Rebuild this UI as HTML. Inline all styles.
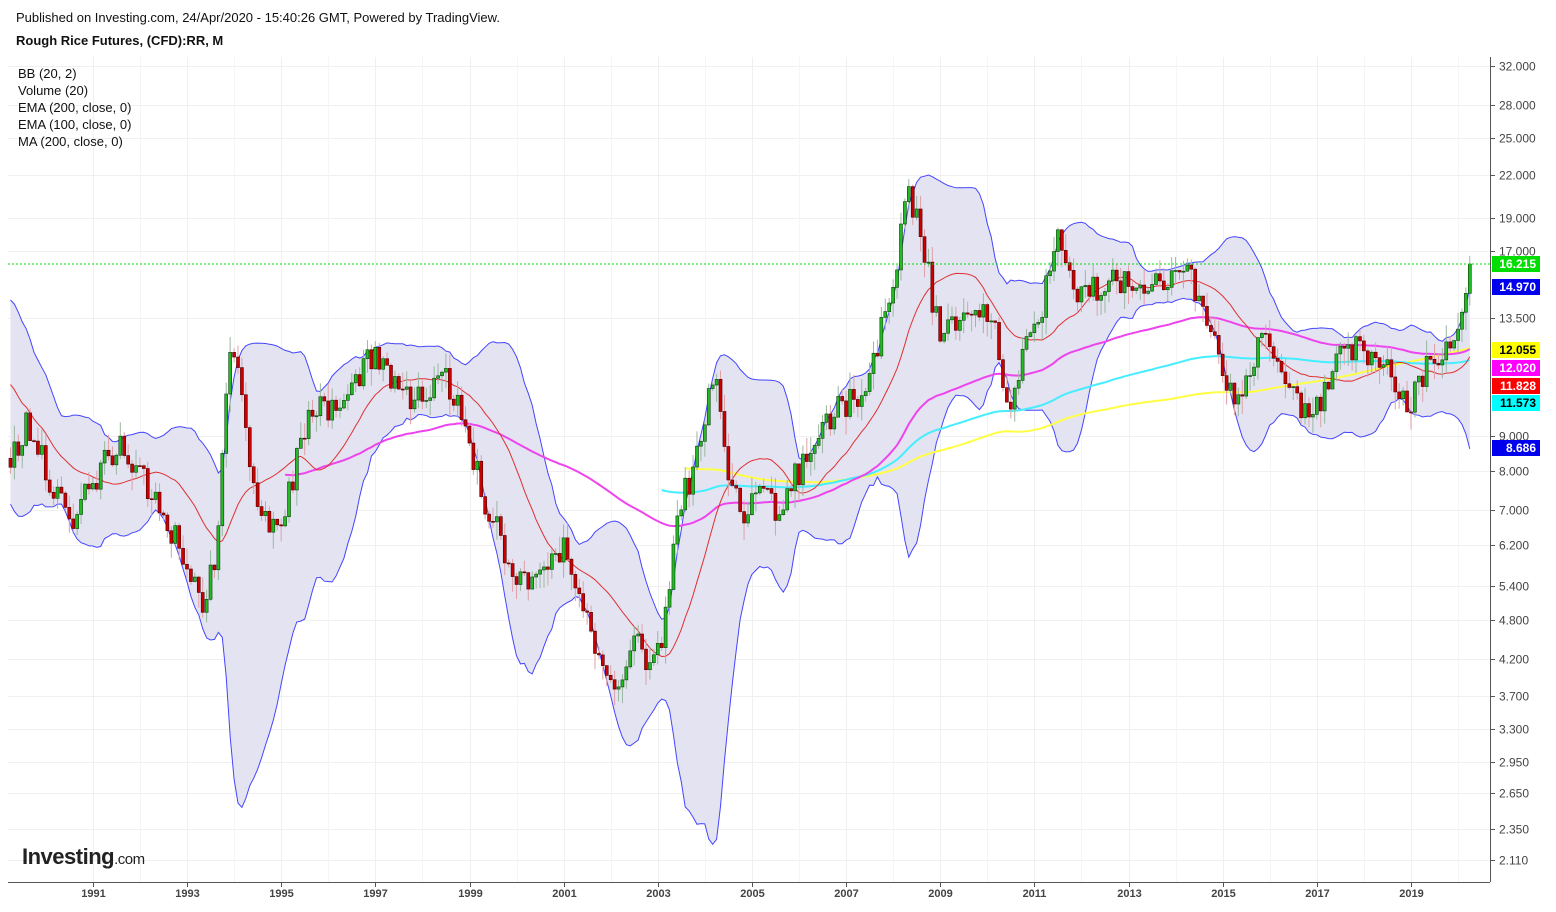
<!DOCTYPE html>
<html><head><meta charset="utf-8"><style>
body{margin:0;background:#fff;width:1556px;height:907px;overflow:hidden;font-family:"Liberation Sans",Arial,sans-serif}
</style></head><body>
<svg id="s" width="1556" height="907" xmlns="http://www.w3.org/2000/svg" font-family="Liberation Sans, Arial, sans-serif">
<rect width="1556" height="907" fill="#fff"/>
<g id="grid"></g>
<g id="band"></g>
<g id="lines"></g>
<g id="candles"></g>
<line x1="8" y1="264" x2="1490" y2="264" stroke="#00dd00" stroke-dasharray="2,2" stroke-width="1"/>
<line x1="1490.5" y1="57" x2="1490.5" y2="882" stroke="#555" />
<line x1="8" y1="882.5" x2="1490" y2="882.5" stroke="#555" />
<g id="axis" font-size="12" fill="#444"></g>
<text x="16" y="22" font-size="13" fill="#111">Published on Investing.com, 24/Apr/2020 - 15:40:26 GMT, Powered by TradingView.</text>
<text x="16" y="45" font-size="13" font-weight="bold" fill="#111">Rough Rice Futures, (CFD):RR, M</text>
<g font-size="13" fill="#111">
<text x="18" y="78">BB (20, 2)</text>
<text x="18" y="95">Volume (20)</text>
<text x="18" y="112">EMA (200, close, 0)</text>
<text x="18" y="129">EMA (100, close, 0)</text>
<text x="18" y="146">MA (200, close, 0)</text>
</g>
<text x="22" y="864" font-size="22" font-weight="bold" fill="#222" letter-spacing="-0.5">Investing<tspan font-size="15" font-weight="normal">.com</tspan></text>
<g id="tags" font-size="12" font-weight="bold"></g>
</svg>
<script>
var NS="http://www.w3.org/2000/svg";
function el(p,t,a,txt){var e=document.createElementNS(NS,t);for(var k in a)e.setAttribute(k,a[k]);if(txt!=null)e.textContent=txt;document.getElementById(p).appendChild(e);return e;}
function Y(p){return 66+(Math.log(32)-Math.log(p))*292;}
function P(y){return Math.exp(Math.log(32)-(y-66)/292);}
function X(t){return 93+(t-1991)*47.07;}
var pl=[32,28,25,22,19,17,13.5,9,8,7,6.2,5.4,4.8,4.2,3.7,3.3,2.95,2.65,2.35,2.11];
pl.forEach(function(p){var y=Math.round(Y(p))+.5;el("grid","line",{x1:8,x2:1490,y1:y,y2:y,stroke:"#f0f0f0"});
el("axis","line",{x1:1490,x2:1495,y1:y,y2:y,stroke:"#555"});
el("axis","text",{x:1499,y:y+4},p.toFixed(3));});
for(var yr=1991;yr<=2019;yr+=2){var x=Math.round(X(yr))+.5;el("grid","line",{x1:x,x2:x,y1:57,y2:882,stroke:"#f0f0f0"});
el("axis","line",{x1:x,x2:x,y1:882,y2:887,stroke:"#555"});
el("axis","text",{x:x,y:897,"text-anchor":"middle","font-weight":"bold","font-size":"11"},yr);}
for(var yr=1992;yr<=2020;yr+=2){var x=Math.round(X(yr))+.5;el("grid","line",{x1:x,x2:x,y1:57,y2:882,stroke:"#f5f5f5"});}
var K=[[1975.0,470],[1980.0,430],[1983.0,480],[1984.0,460],[1985.0,500],[1986.0,560],[1987.0,450],[1987.8,320],[1988.5,380],[1989.0,460],[1989.3,460],[1989.6,425],[1990.0,470],[1990.5,520],[1991.0,480],[1991.5,445],[1992.0,470],[1992.5,520],[1993.0,560],[1993.3,610],[1993.6,560],[1993.9,350],[1994.2,400],[1994.4,480],[1994.7,520],[1995.0,520],[1995.3,470],[1995.6,400],[1996.0,420],[1996.5,390],[1997.0,350],[1997.5,390],[1998.0,400],[1998.5,380],[1999.0,440],[1999.3,500],[1999.6,530],[2000.0,580],[2000.5,570],[2001.0,550],[2001.4,600],[2001.8,670],[2002.2,690],[2002.5,630],[2002.8,670],[2003.1,640],[2003.4,520],[2003.6,490],[2003.9,450],[2004.2,370],[2004.5,470],[2004.8,510],[2005.2,500],[2005.6,510],[2006.0,470],[2006.4,430],[2006.8,410],[2007.2,400],[2007.6,360],[2008.0,280],[2008.3,190],[2008.6,230],[2008.8,290],[2009.0,340],[2009.4,320],[2009.8,300],[2010.2,340],[2010.5,420],[2010.8,340],[2011.2,300],[2011.5,240],[2011.8,290],[2012.3,290],[2012.8,280],[2013.4,280],[2013.8,275],[2014.3,280],[2014.6,300],[2015.0,380],[2015.4,400],[2015.8,330],[2016.3,380],[2016.8,420],[2017.1,400],[2017.5,350],[2018.0,350],[2018.5,360],[2018.9,410],[2019.3,370],[2019.7,350],[2019.95,330],[2020.1,310],[2020.18,290],[2020.25,264]];
var seed=11;function rnd(){seed=(seed*16807)%2147483647;return seed/2147483647;}
function path(t){for(var i=0;i<K.length-1;i++){if(t<=K[i+1][0]){var f=(t-K[i][0])/(K[i+1][0]-K[i][0]);return K[i][1]+f*(K[i+1][1]-K[i][1]);}}return K[K.length-1][1];}
var PRE=172,N=372+PRE,T=[],C=[],O=[],H=[],L=[];
var dt=(2020.25-1989.33)/371;
for(var i=0;i<N;i++){var t=1989.33+(i-PRE)*dt;T.push(t);
var amp=(t>2001.5&&t<2003.2)?16:30;
var y=path(t)+(i<N-3?(rnd()-0.5)*amp:0);C.push(P(y));}
for(var i=0;i<N;i++){O.push(i?C[i-1]:C[0]*1.02);var hi=Math.max(O[i],C[i]),lo=Math.min(O[i],C[i]);
H.push(hi*(1+rnd()*0.06));L.push(lo*(1-rnd()*0.06));}
var up=[],dn=[],mid=[];
for(var i=PRE-1;i<N;i++){var s=0;for(var j=i-19;j<=i;j++)s+=C[j];var m=s/20,v=0;for(var j=i-19;j<=i;j++)v+=(C[j]-m)*(C[j]-m);var sd=Math.sqrt(v/20);
mid.push([X(T[i]),Y(m)]);up.push([X(T[i]),Y(m+2*sd)]);dn.push([X(T[i]),Y(Math.max(m-2*sd,0.5))]);}
function pts(a){return a.map(function(p){return p[0].toFixed(1)+","+p[1].toFixed(1)}).join(" ");}
el("band","polygon",{points:pts(up)+" "+pts(dn.slice().reverse()),fill:"#e3e3f1"});
el("band","polyline",{points:pts(up),fill:"none",stroke:"#4545ff","stroke-width":1});
el("band","polyline",{points:pts(dn),fill:"none",stroke:"#4545ff","stroke-width":1});
function ema(per,st,col,w){var k=2/(per+1),e=C[0],a=[];for(var i=0;i<N;i++){e=i?C[i]*k+e*(1-k):C[0];if(T[i]>=st)a.push([X(T[i]),Y(e)]);}
el("lines","polyline",{points:pts(a),fill:"none",stroke:col,"stroke-width":w});}
function sma(per,st,col,w){var a=[];for(var i=0;i<N;i++){if(T[i]<st)continue;var s=0,n=0;for(var j=Math.max(0,i-per+1);j<=i;j++){s+=C[j];n++;}a.push([X(T[i]),Y(s/n)]);}
el("lines","polyline",{points:pts(a),fill:"none",stroke:col,"stroke-width":w});}
sma(200,2003.5,"#ffff44",2);
ema(200,2003.0,"#44eeff",2);
ema(100,1995.0,"#ee44ee",2);
el("lines","polyline",{points:pts(mid),fill:"none",stroke:"#e03030","stroke-width":1});
for(var i=PRE-1;i<N;i++){var x=X(T[i]),g=C[i]>=O[i];
el("candles","line",{x1:x,x2:x,y1:Y(H[i]),y2:Y(L[i]),stroke:g?"#9ab8a0":"#e0a0a8","stroke-width":1});
var y1=Y(Math.max(O[i],C[i])),y2=Y(Math.min(O[i],C[i]));
el("candles","rect",{x:x-1.5,y:y1,width:3,height:Math.max(1,y2-y1),fill:g?"#22bb22":"#cc0000",stroke:g?"#0c3d0c":"#4d0000","stroke-width":0.6});}
var tg=[[264,"16.215","#00dd00","#fff"],[287,"14.970","#0000ee","#fff"],[350,"12.055","#ffff00","#000"],[368,"12.020","#ff00ff","#fff"],[386,"11.828","#ff0000","#fff"],[403,"11.573","#00ffff","#000"],[448,"8.686","#0000ee","#fff"]];
tg.forEach(function(t){el("tags","rect",{x:1492,y:t[0]-8,width:48,height:16,fill:t[2]});
el("tags","text",{x:1536,y:t[0]+4,"text-anchor":"end",fill:t[3]},t[1]);});
</script>
</body></html>
